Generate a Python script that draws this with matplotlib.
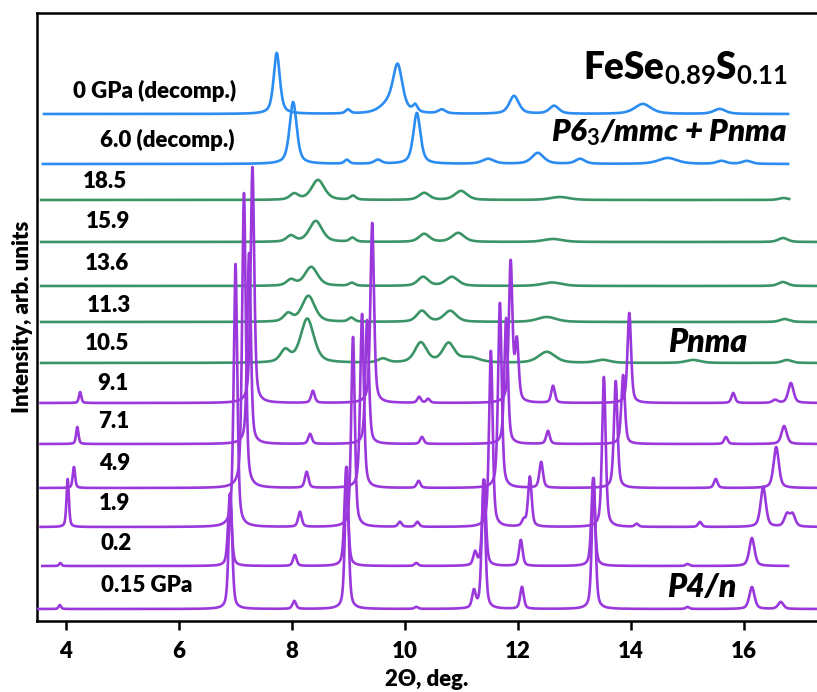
import numpy as np
import matplotlib
matplotlib.use("Agg")
import matplotlib.pyplot as plt

plt.rcParams['font.family'] = ['Lato', 'DejaVu Sans']
plt.rcParams['font.weight'] = 'bold'
plt.rcParams['mathtext.fontset'] = 'custom'
plt.rcParams['mathtext.rm'] = 'Lato:bold'
plt.rcParams['mathtext.it'] = 'Lato:bold:italic'
plt.rcParams['mathtext.bf'] = 'Lato:bold'

# ---------------- data (peak positions in 2theta, heights in arb. units) --------------
labels = ["0 GPa (decomp.)", "6.0 (decomp.)", "18.5", "15.9", "13.6", "11.3", "10.5",
          "9.1", "7.1", "4.9", "1.9", "0.2", "0.15 GPa"]

b0_pos = [7.73, 8.99, 9.70, 9.87, 10.18, 10.65, 11.93, 12.64, 14.21, 15.57]
b0_h   = [61, 4, 8, 46, 7, 4, 18, 8, 10, 5]
b0_w   = [0.13, 0.10, 0.35, 0.20, 0.10, 0.15, 0.20, 0.20, 0.35, 0.25]

b6_pos = [8.02, 8.97, 9.52, 10.21, 11.47, 12.35, 13.10, 14.65, 15.60, 16.05]
b6_h   = [62, 4, 4, 51, 5, 11, 5, 6, 3, 3]
b6_w   = [0.15, 0.10, 0.15, 0.15, 0.25, 0.25, 0.20, 0.40, 0.20, 0.20]

g185_pos = [8.04, 8.46, 9.08, 10.34, 10.99, 12.74, 16.70]
g185_h   = [6, 20, 4, 7, 9, 3, 2]
g159_pos = [7.98, 8.42, 9.07, 10.34, 10.94, 12.62, 16.69]
g159_h   = [6, 21, 4, 8, 9, 3, 4]
g136_pos = [7.98, 8.34, 9.06, 10.32, 10.83, 12.60, 16.69]
g136_h   = [6, 19, 3, 9, 9, 3.5, 4]
g113_pos = [7.93, 8.29, 9.05, 10.30, 10.80, 12.51, 16.72]
g113_h   = [8, 26, 4, 11, 11, 5, 3]
g_w      = [0.18, 0.27, 0.12, 0.22, 0.26, 0.40, 0.20]
g105_pos = [7.88, 8.27, 9.61, 10.28, 10.77, 11.15, 12.51, 13.50, 15.10, 16.76]
g105_h   = [12, 44, 4, 20, 19, 5, 11, 3, 3, 3]
g105_w   = [0.20, 0.28, 0.20, 0.25, 0.25, 0.40, 0.35, 0.30, 0.30, 0.20]

p91_pos = [4.25, 7.30, 8.37, 9.42, 10.25, 10.41, 11.87, 11.98, 12.62, 13.97, 15.81, 16.55, 16.83]
p91_h   = [11, 236, 12, 180, 6, 4, 140, 59, 17, 90, 10, 3, 20]
p71_pos = [4.20, 7.24, 8.32, 9.33, 10.30, 11.79, 12.53, 13.86, 15.68, 16.71]
p71_h   = [17, 191, 10, 124, 7, 126, 13, 69, 7, 18]
p49_pos = [4.14, 7.15, 8.26, 9.24, 10.24, 11.68, 12.41, 13.73, 15.50, 16.57]
p49_h   = [21, 295, 16, 174, 7, 185, 26, 107, 9, 41]
p19_pos = [4.03, 7.00, 8.14, 9.08, 9.91, 10.22, 11.52, 12.10, 12.21, 13.52, 14.10, 15.22, 16.34, 16.76, 16.86]
p19_h   = [48, 263, 15, 190, 5, 5, 176, 6, 50, 150, 3, 5, 40, 12, 12]
p02_pos = [3.90, 6.90, 8.05, 8.96, 10.20, 11.24, 11.40, 12.05, 13.33, 15.00, 16.14]
p02_h   = [3, 72, 11, 99, 3, 13, 86, 26, 88, 2, 28]
p015_pos = [3.89, 6.91, 8.04, 8.97, 10.20, 11.22, 11.39, 12.07, 13.34, 15.00, 16.14, 16.65]
p015_h   = [4, 116, 8, 142, 2, 17, 129, 22, 131, 2, 22, 7]

x_ticks = [4, 6, 8, 10, 12, 14, 16]

# ---------------- drawing ----------------
BLUE = "#2b8cf2"
GREEN = "#3a9466"
PURPLE = "#9a38dc"
TW = 'heavy'


def profile(x, pos, h, w, eta):
    y = np.zeros_like(x)
    for c, a, fw in zip(pos, h, w):
        t = (x - c) / fw
        y += a * (eta / (1 + 4 * t ** 2) + (1 - eta) * np.exp(-4 * np.log(2) * t ** 2))
    return y


def pw(pos):
    # purple widths: narrow, slightly broader at high angle
    return [0.05 if c < 5 else (0.11 if c > 16 else 0.075) for c in pos]


# (label index, pos, heights, widths, eta, colour, x-range)
patterns = [
    (0, b0_pos, b0_h, b0_w, 0.6, BLUE, (3.61, 16.78)),
    (1, b6_pos, b6_h, b6_w, 0.6, BLUE, (3.59, 16.78)),
    (2, g185_pos, g185_h, g_w, 0.5, GREEN, (3.56, 16.80)),
    (3, g159_pos, g159_h, g_w, 0.5, GREEN, (3.56, 17.30)),
    (4, g136_pos, g136_h, g_w, 0.5, GREEN, (3.56, 17.30)),
    (5, g113_pos, g113_h, g_w, 0.5, GREEN, (3.56, 17.30)),
    (6, g105_pos, g105_h, g105_w, 0.5, GREEN, (3.56, 17.30)),
    (7, p91_pos, p91_h, pw(p91_pos), 0.5, PURPLE, (3.55, 17.30)),
    (8, p71_pos, p71_h, pw(p71_pos), 0.5, PURPLE, (3.55, 17.30)),
    (9, p49_pos, p49_h, pw(p49_pos), 0.5, PURPLE, (3.55, 17.30)),
    (10, p19_pos, p19_h, pw(p19_pos), 0.5, PURPLE, (3.55, 17.30)),
    (11, p02_pos, p02_h, pw(p02_pos), 0.5, PURPLE, (3.58, 16.78)),
    (12, p015_pos, p015_h, pw(p015_pos), 0.5, PURPLE, (3.50, 17.30)),
]

offsets = [507, 457, 421, 379, 335, 299, 258, 218, 177, 133, 94, 55, 12]
label_x_px = [73, 100, 83, 86, 85, 87, 85, 97, 98, 99, 99, 101, 101]
label_y_px = [91, 140, 181, 222, 264, 306, 343, 383, 422, 463, 503, 543, 585]

fig = plt.figure(figsize=(8.17, 6.92), dpi=100)
ax = fig.add_axes([37 / 817, 71 / 692, 780 / 817, 608 / 692])

for idx, pos, h, w, eta, col, (x0, x1) in patterns:
    x = np.linspace(x0, x1, 6000)
    y = offsets[idx] + profile(x, pos, h, w, eta)
    z = 3 if col == PURPLE else 2
    ax.plot(x, y, color=col, lw=1.9, zorder=z, solid_joinstyle='round')

for i, lab in enumerate(labels):
    xd = 4 + (label_x_px[i] - 66) / 56.5
    yd = 621 - label_y_px[i]
    ax.text(xd, yd, lab, ha='left', va='center', fontsize=16, fontweight=TW)

ax.text(16.78, 553, r"FeSe$_{0.89}$S$_{0.11}$", ha='right', va='center',
        fontsize=26.5, fontweight=TW)
ax.text(16.78, 488, r"P6$_3$/mmc + Pnma", ha='right', va='center',
        fontsize=22.5, fontweight=TW, style='italic')
ax.text(14.65, 279, "Pnma", ha='left', va='center', fontsize=23,
        fontweight=TW, style='italic')
ax.text(14.64, 34, "P4/n", ha='left', va='center', fontsize=23,
        fontweight=TW, style='italic')

ax.set_xlim(4 + (37 - 66) / 56.5, 4 + (817 - 66) / 56.5)
ax.set_ylim(0, 608)
ax.set_xticks(x_ticks)
ax.set_xticklabels([str(t) for t in x_ticks])
ax.set_yticks([])
ax.tick_params(axis='x', direction='out', length=6.5, width=1.8, pad=8,
               labelsize=16)
for lab in ax.get_xticklabels():
    lab.set_fontweight(TW)
for s in ['left', 'top', 'bottom']:
    ax.spines[s].set_linewidth(1.8)
ax.spines['right'].set_visible(False)
ax.set_xlabel("2Θ, deg.", fontsize=16, fontweight=TW, labelpad=5)
ax.set_ylabel("Intensity, arb. units", fontsize=16, fontweight=TW, labelpad=3)

fig.savefig("out.png", dpi=100)
